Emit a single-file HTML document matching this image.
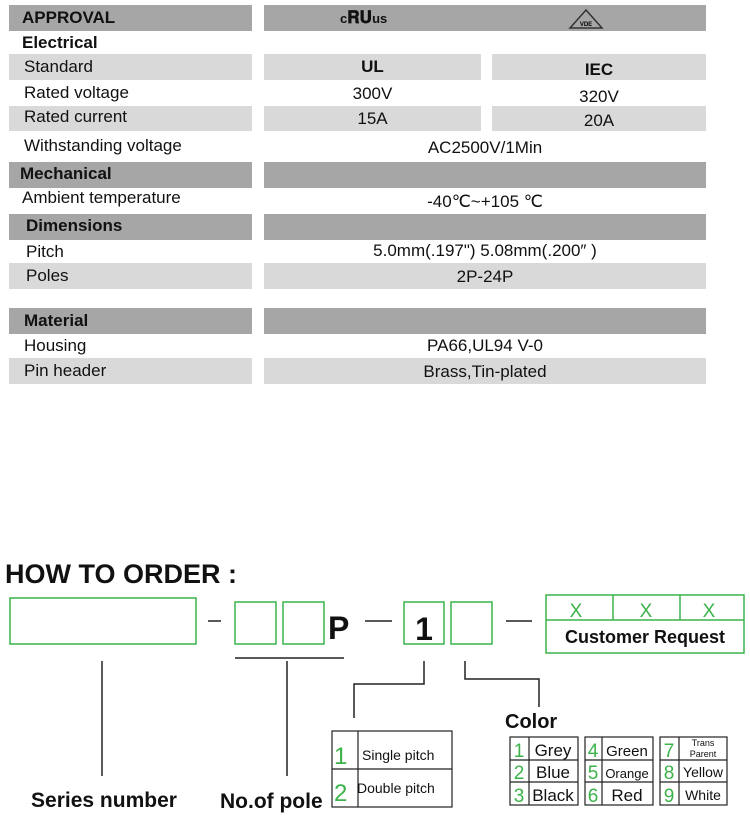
<!DOCTYPE html>
<html><head><meta charset="utf-8"><style>
body{margin:0;width:750px;height:828px;background:#fff;position:relative;overflow:hidden;font-family:"Liberation Sans",sans-serif;color:#111}
.b{position:absolute}
.d{background:#a6a6a6}
.l{background:#d9d9d9}
.t{position:absolute;font-size:17px;line-height:20px;white-space:nowrap}
.c{text-align:center}
.bold{font-weight:bold}
</style></head><body>
<div class="b d" style="left:9px;top:5px;width:243px;height:26px"></div>
<div class="b d" style="left:264px;top:5px;width:442px;height:26px"></div>
<div class="b l" style="left:9px;top:54px;width:243px;height:26px"></div>
<div class="b l" style="left:264px;top:54px;width:217px;height:26px"></div>
<div class="b l" style="left:492px;top:54px;width:214px;height:26px"></div>
<div class="b l" style="left:9px;top:106px;width:243px;height:25px"></div>
<div class="b l" style="left:264px;top:106px;width:217px;height:25px"></div>
<div class="b l" style="left:492px;top:106px;width:214px;height:25px"></div>
<div class="b d" style="left:9px;top:162px;width:243px;height:26px"></div>
<div class="b d" style="left:264px;top:162px;width:442px;height:26px"></div>
<div class="b d" style="left:9px;top:214px;width:243px;height:26px"></div>
<div class="b d" style="left:264px;top:214px;width:442px;height:26px"></div>
<div class="b l" style="left:9px;top:263px;width:243px;height:26px"></div>
<div class="b l" style="left:264px;top:263px;width:442px;height:26px"></div>
<div class="b d" style="left:9px;top:308px;width:243px;height:26px"></div>
<div class="b d" style="left:264px;top:308px;width:442px;height:26px"></div>
<div class="b l" style="left:9px;top:358px;width:243px;height:26px"></div>
<div class="b l" style="left:264px;top:358px;width:442px;height:26px"></div>
<div class="t bold" style="left:22px;top:8px">APPROVAL</div>
<div class="t bold" style="left:22px;top:33px">Electrical</div>
<div class="t" style="left:24px;top:57px">Standard</div>
<div class="t" style="left:24px;top:83px">Rated voltage</div>
<div class="t" style="left:24px;top:107px">Rated current</div>
<div class="t" style="left:24px;top:136px">Withstanding voltage</div>
<div class="t bold" style="left:20px;top:164px">Mechanical</div>
<div class="t" style="left:22px;top:188px">Ambient temperature</div>
<div class="t bold" style="left:26px;top:216px">Dimensions</div>
<div class="t" style="left:26px;top:242px">Pitch</div>
<div class="t" style="left:26px;top:266px">Poles</div>
<div class="t bold" style="left:24px;top:311px">Material</div>
<div class="t" style="left:24px;top:336px">Housing</div>
<div class="t" style="left:24px;top:361px">Pin header</div>
<div class="t bold" style="left:340px;top:8px;font-size:13px">c<span style="font-size:17px">𝐑𝐔</span>us</div>
<svg class="b" style="left:568px;top:8px" width="36" height="22"><path d="M18 2 L34 20 L2 20 Z" fill="none" stroke="#333" stroke-width="1.5"/><text x="18" y="18" font-size="6" text-anchor="middle" font-family="Liberation Sans" font-weight="bold">VDE</text></svg>
<div class="t bold c" style="left:264px;width:217px;top:57px">UL</div>
<div class="t bold c" style="left:492px;width:214px;top:60px">IEC</div>
<div class="t c" style="left:264px;width:217px;top:84px">300V</div>
<div class="t c" style="left:492px;width:214px;top:87px">320V</div>
<div class="t c" style="left:264px;width:217px;top:109px">15A</div>
<div class="t c" style="left:492px;width:214px;top:111px">20A</div>
<div class="t c" style="left:264px;width:442px;top:138px">AC2500V/1Min</div>
<div class="t c" style="left:264px;width:442px;top:192px">-40℃~+105 ℃</div>
<div class="t c" style="left:264px;width:442px;top:241px">5.0mm(.197") 5.08mm(.200″ )</div>
<div class="t c" style="left:264px;width:442px;top:267px">2P-24P</div>
<div class="t c" style="left:264px;width:442px;top:336px">PA66,UL94 V-0</div>
<div class="t c" style="left:264px;width:442px;top:362px">Brass,Tin-plated</div>
<svg class="b" style="left:0;top:550px" width="750" height="278" font-family="Liberation Sans">
<g transform="translate(0,-550)">
<text x="5" y="583" font-size="27" font-weight="bold" fill="#111">HOW TO ORDER :</text>
<g fill="none" stroke="#3cb34a" stroke-width="1.5">
<rect x="10" y="598" width="186" height="46"/>
<rect x="235" y="602" width="41" height="42"/>
<rect x="283" y="602" width="41" height="42"/>
<rect x="404" y="602" width="40" height="42"/>
<rect x="451" y="602" width="41" height="42"/>
<rect x="546" y="595" width="198" height="58"/>
<line x1="546" y1="620" x2="744" y2="620"/>
<line x1="613" y1="595" x2="613" y2="620"/>
<line x1="680" y1="595" x2="680" y2="620"/>
</g>
<g fill="#3cb34a" font-size="19" text-anchor="middle">
<text x="576" y="617">X</text><text x="646" y="617">X</text><text x="709" y="617">X</text>
</g>
<text x="645" y="643" font-size="18" font-weight="bold" text-anchor="middle" fill="#111">Customer Request</text>
<text x="328" y="639" font-size="32" font-weight="bold" fill="#111">P</text>
<text x="424" y="640" font-size="32" font-weight="bold" text-anchor="middle" fill="#111">1</text>
<g stroke="#222" stroke-width="1.5" fill="none">
<line x1="208" y1="621" x2="221" y2="621"/>
<line x1="365" y1="621" x2="392" y2="621"/>
<line x1="506" y1="621" x2="532" y2="621"/>
<line x1="235" y1="658" x2="344" y2="658"/>
<line x1="102" y1="661" x2="102" y2="776"/>
<line x1="287" y1="661" x2="287" y2="776"/>
<polyline points="424,661 424,684 354,684 354,718"/>
<polyline points="465,661 465,679 539,679 539,707"/>
</g>
<text x="104" y="807" font-size="21" font-weight="bold" text-anchor="middle" fill="#111">Series number</text>
<text x="220" y="808" font-size="21" font-weight="bold" fill="#111">No.of pole</text>
<g stroke="#222" stroke-width="1.2" fill="none">
<rect x="332" y="731" width="120" height="76"/>
<line x1="358" y1="731" x2="358" y2="807"/>
<line x1="332" y1="769" x2="452" y2="769"/>
</g>
<g fill="#3cb34a" font-size="24"><text x="334" y="764">1</text><text x="334" y="801">2</text></g>
<text x="362" y="760" font-size="14" fill="#111">Single pitch</text>
<text x="357" y="793" font-size="14" fill="#111">Double pitch</text>
<text x="505" y="728" font-size="20" font-weight="bold" fill="#111">Color</text>
<g stroke="#222" stroke-width="1.2" fill="none">
<rect x="510" y="737" width="68" height="68"/><line x1="529" y1="737" x2="529" y2="805"/><line x1="510" y1="760" x2="578" y2="760"/><line x1="510" y1="782" x2="578" y2="782"/>
<rect x="585" y="737" width="68" height="68"/><line x1="602" y1="737" x2="602" y2="805"/><line x1="585" y1="760" x2="653" y2="760"/><line x1="585" y1="782" x2="653" y2="782"/>
<rect x="660" y="737" width="67" height="68"/><line x1="679" y1="737" x2="679" y2="805"/><line x1="660" y1="760" x2="727" y2="760"/><line x1="660" y1="782" x2="727" y2="782"/>
</g>
<g fill="#3cb34a" font-size="19" text-anchor="middle">
<text x="519" y="757">1</text><text x="519" y="779">2</text><text x="519" y="802">3</text>
<text x="593" y="757">4</text><text x="593" y="779">5</text><text x="593" y="802">6</text>
<text x="669" y="757">7</text><text x="669" y="779">8</text><text x="669" y="802">9</text>
</g>
<g fill="#111" text-anchor="middle">
<text x="553" y="756" font-size="17">Grey</text><text x="553" y="778" font-size="17">Blue</text><text x="553" y="801" font-size="17">Black</text>
<text x="627" y="756" font-size="15">Green</text><text x="627" y="778" font-size="13">Orange</text><text x="627" y="801" font-size="17">Red</text>
<text x="703" y="746" font-size="9">Trans</text><text x="703" y="757" font-size="9">Parent</text>
<text x="703" y="777" font-size="14">Yellow</text><text x="703" y="800" font-size="14">White</text>
</g>
</g>
</svg>
</body></html>
